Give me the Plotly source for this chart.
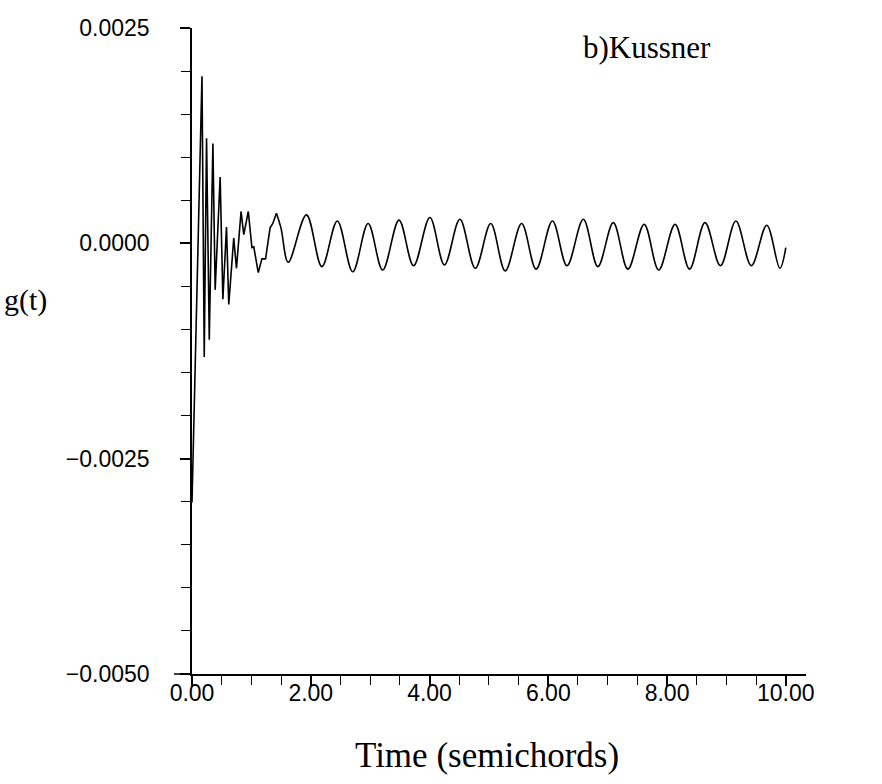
import plotly.graph_objects as go

# ---- data (time in semichords, g(t)) ----
t_early = [0.000, 0.168, 0.206, 0.245, 0.291, 0.352, 0.390, 0.474, 0.520, 0.581,
           0.619, 0.703, 0.749, 0.826, 0.872, 0.948, 1.009, 1.040, 1.116, 1.177,
           1.239, 1.315, 1.361, 1.422]
g_early = [-0.00301, 0.00194, -0.00132, 0.00122, -0.00112, 0.00116, -0.00054, 0.00077,
           -0.00065, 0.00019, -0.00071, 0.00006, -0.00029, 0.00037, 0.00010, 0.00037,
           -0.00005, -0.00004, -0.00034, -0.00018, -0.00018, 0.00018, 0.00023, 0.00035]

t_late = [1.422, 1.498, 1.621, 1.927, 2.187, 2.447, 2.707, 2.966, 3.211, 3.486, 3.731,
          4.006, 4.251, 4.511, 4.771, 5.031, 5.275, 5.551, 5.795, 6.070, 6.315,
          6.590, 6.835, 7.095, 7.340, 7.615, 7.859, 8.135, 8.379, 8.639, 8.899,
          9.159, 9.419, 9.679, 9.900, 10.000]
g_late = [0.00035, 0.00018, -0.00022, 0.00033, -0.00027, 0.00026, -0.00033, 0.00023,
          -0.00031, 0.00027, -0.00026, 0.00030, -0.00025, 0.00028, -0.00029, 0.00023,
          -0.00032, 0.00023, -0.00030, 0.00026, -0.00026, 0.00028, -0.00027, 0.00024,
          -0.00030, 0.00022, -0.00031, 0.00022, -0.00030, 0.00024, -0.00026, 0.00026,
          -0.00026, 0.00021, -0.00029, -0.00005]

x_range = [0, 10.34]
y_range = [-0.005, 0.0025]
title_text = "b)Kussner"
x_title = "Time (semichords)"
y_title = "g(t)"

W, H = 882, 784
ML, MR, MT, MB = 192, 76, 28, 110
pw = W - ML - MR
ph = H - MT - MB


def px(x, y):
    """pixel position (from top-left) -> paper coordinates"""
    return (x - ML) / pw, (H - y - MB) / ph


fig = go.Figure()
fig.add_trace(go.Scatter(x=t_early, y=g_early, mode="lines",
                         line=dict(color="black", width=1.6, shape="linear"),
                         showlegend=False))
fig.add_trace(go.Scatter(x=t_late, y=g_late, mode="lines",
                         line=dict(color="black", width=1.6, shape="spline", smoothing=1.0),
                         showlegend=False))

tick_font = dict(family="Liberation Sans, Arial, sans-serif", size=23, color="black")
serif = "Liberation Serif, Times New Roman, serif"

tx, ty = px(647, 47)
xx, xy = px(487, 755)
gx, gy = px(25, 300)

fig.update_layout(
    width=W, height=H,
    margin=dict(l=ML, r=MR, t=MT, b=MB),
    paper_bgcolor="white", plot_bgcolor="white",
    showlegend=False,
    xaxis=dict(range=x_range, showgrid=False, zeroline=False,
               showline=True, linecolor="black", linewidth=1.5,
               ticks="outside", ticklen=10, tickwidth=1.5, tickcolor="black",
               tick0=0, dtick=2, tickformat=".2f", tickfont=tick_font,
               ticklabelstandoff=-12,
               minor=dict(dtick=0.5, ticks="outside", ticklen=9, tickwidth=1.3,
                          tickcolor="black", showgrid=False)),
    yaxis=dict(range=y_range, showgrid=False, zeroline=False,
               showline=True, linecolor="black", linewidth=1.5,
               ticks="outside", ticklen=10, tickwidth=1.5, tickcolor="black",
               tick0=0, dtick=0.0025, tickformat=".4f", tickfont=tick_font,
               ticklabelstandoff=26,
               minor=dict(dtick=0.0005, ticks="outside", ticklen=9, tickwidth=1.3,
                          tickcolor="black", showgrid=False)),
    annotations=[
        dict(text=title_text, x=tx, y=ty, xref="paper", yref="paper",
             xanchor="center", yanchor="middle", showarrow=False,
             font=dict(family=serif, size=31, color="black")),
        dict(text=x_title, x=xx, y=xy, xref="paper", yref="paper",
             xanchor="center", yanchor="middle", showarrow=False,
             font=dict(family=serif, size=35, color="black")),
        dict(text=y_title, x=gx, y=gy, xref="paper", yref="paper",
             xanchor="center", yanchor="middle", showarrow=False,
             font=dict(family=serif, size=30, color="black")),
    ],
)

# short extension of the x-axis line to the left of the y-axis
fig.add_shape(type="line", xref="paper", yref="paper",
              x0=-18 / pw, x1=0, y0=0, y1=0,
              line=dict(color="black", width=1.5))

fig.write_html("out.html")
